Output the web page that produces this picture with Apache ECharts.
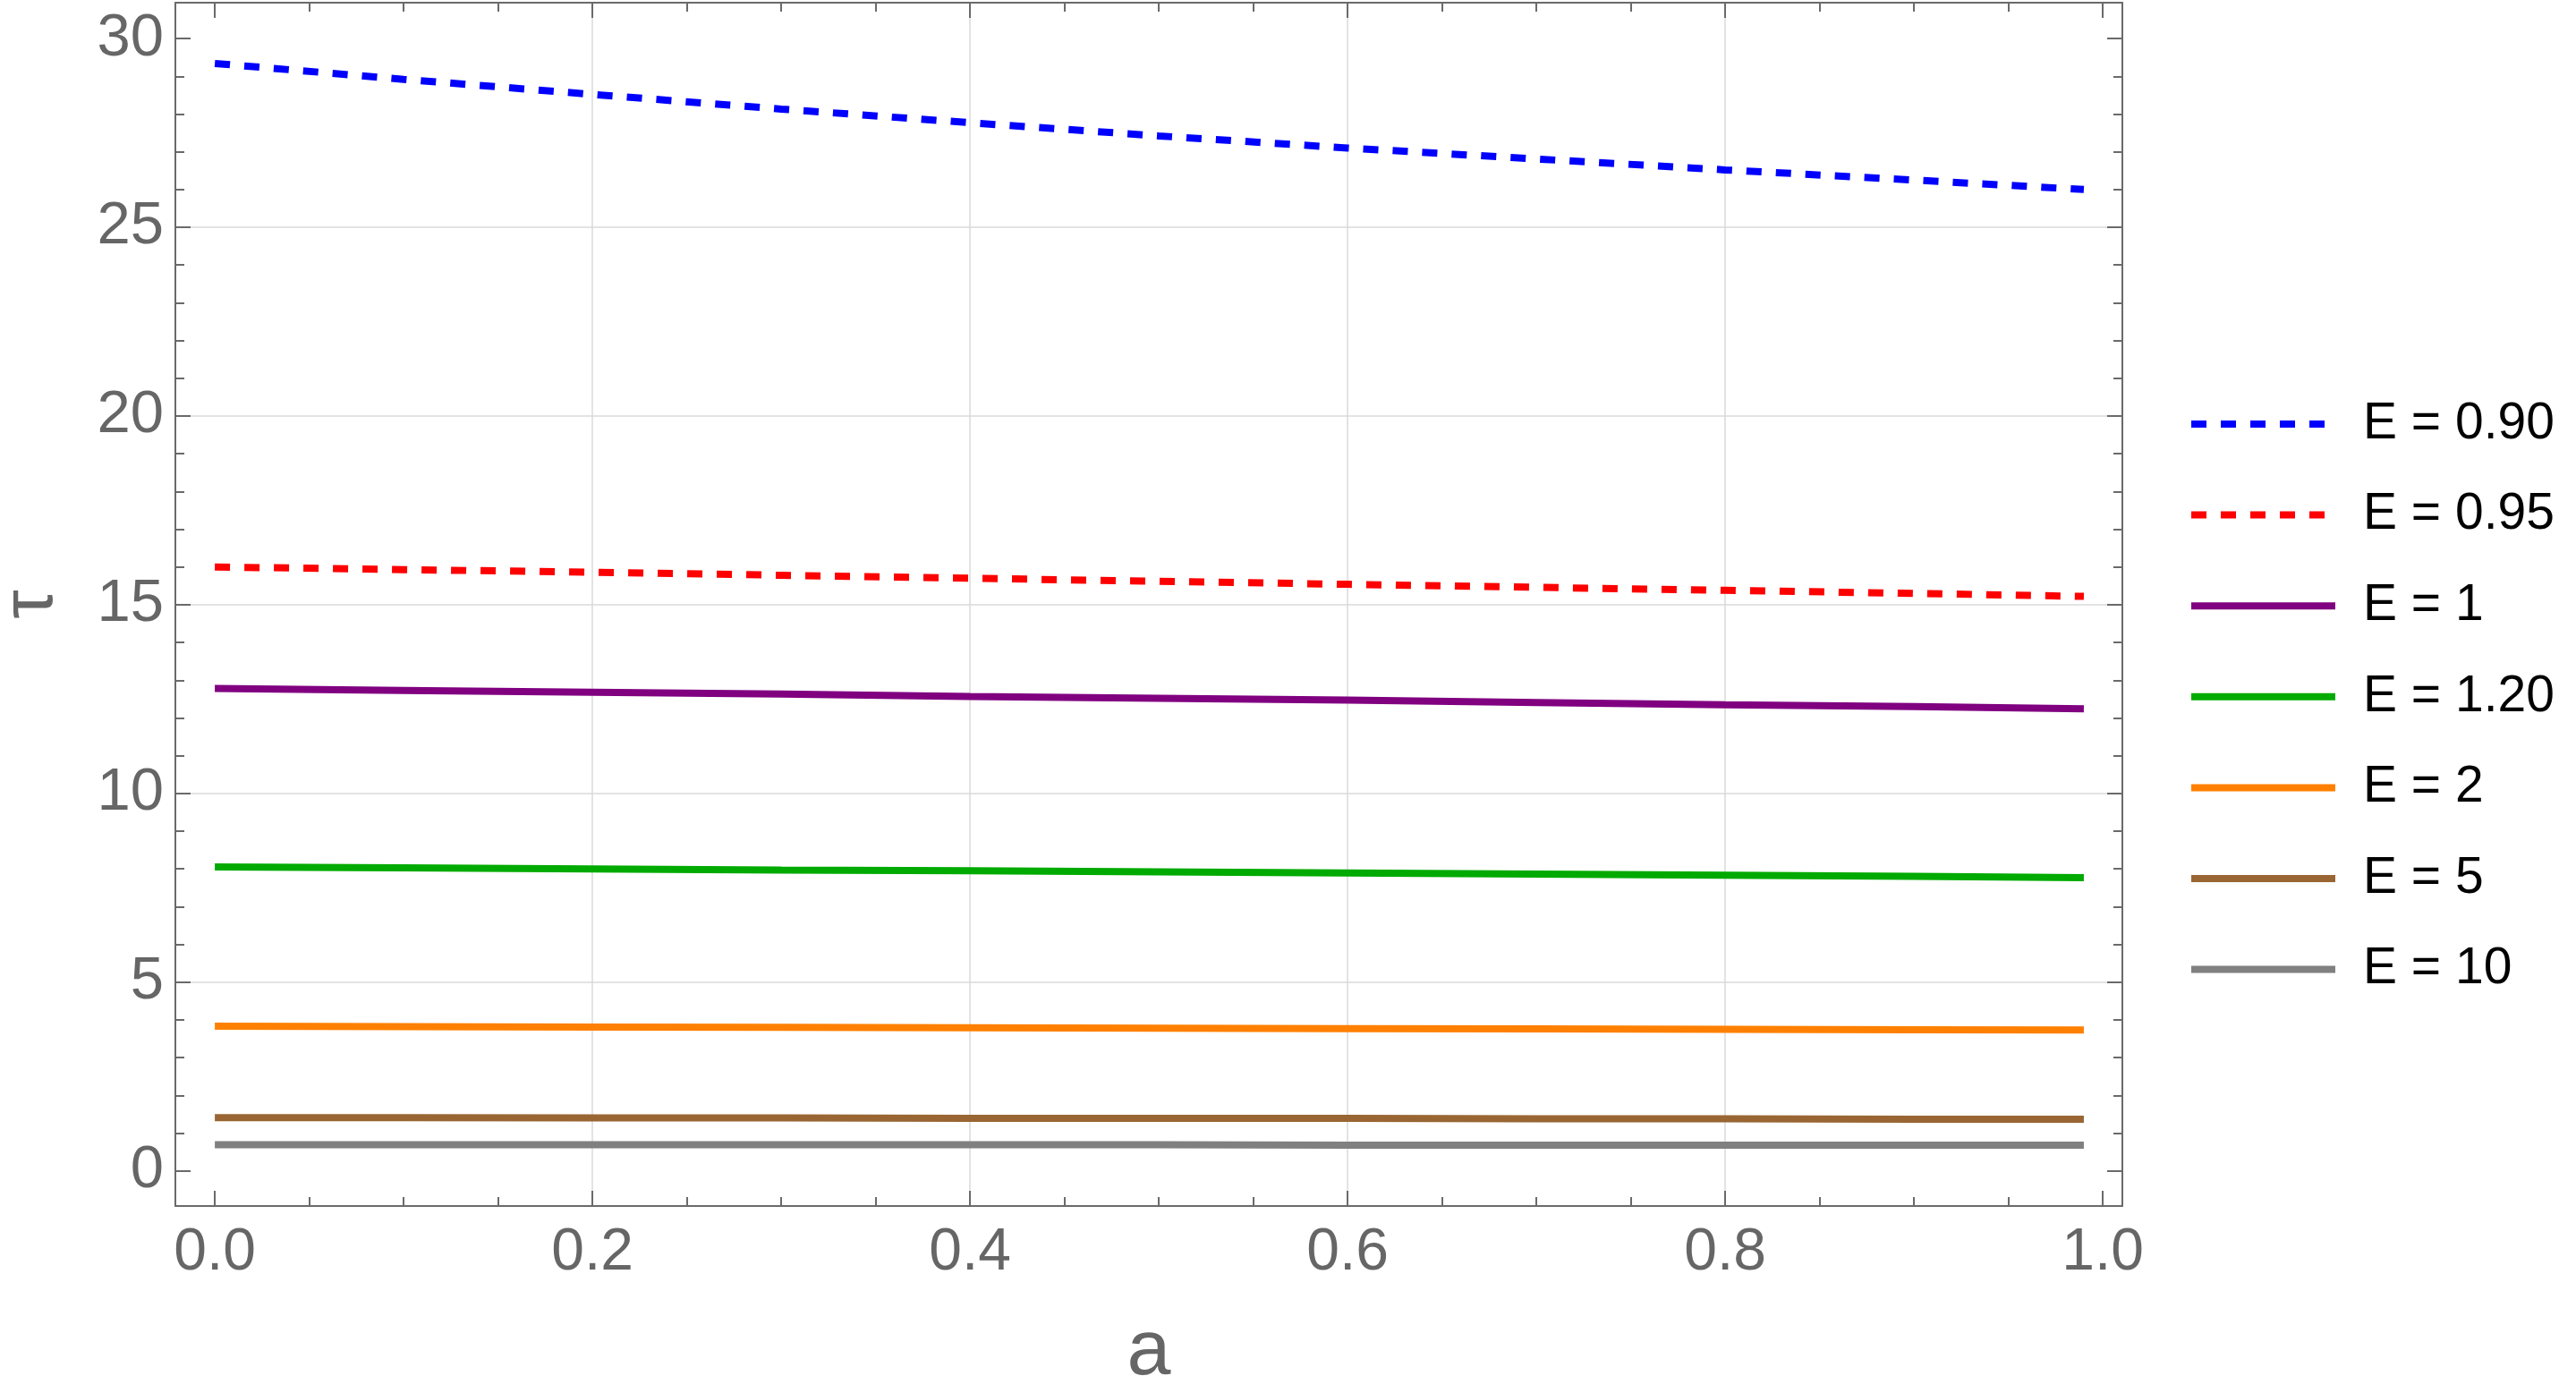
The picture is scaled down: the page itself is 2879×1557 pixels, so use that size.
<!DOCTYPE html>
<html>
<head>
<meta charset="utf-8">
<script src="https://cdn.jsdelivr.net/npm/echarts@6/dist/echarts.min.js"></script>
<style>
html,body{margin:0;padding:0;background:#fff;}
#chart{width:2879px;height:1557px;}
</style>
</head>
<body>
<div id="chart"></div>
<script>
// ---- data ----
const aValues = [0, 0.1, 0.2, 0.3, 0.4, 0.5, 0.6, 0.7, 0.8, 0.9, 0.99];
const tauE090 = [29.34, 28.92, 28.52, 28.13, 27.77, 27.42, 27.10, 26.81, 26.52, 26.25, 26.00];
const tauE095 = [16.00, 15.93, 15.86, 15.78, 15.70, 15.62, 15.54, 15.46, 15.38, 15.30, 15.22];
const tauE1   = [12.78, 12.73, 12.68, 12.63, 12.57, 12.52, 12.47, 12.41, 12.35, 12.30, 12.24];
const tauE120 = [8.05, 8.03, 8.00, 7.97, 7.95, 7.92, 7.89, 7.86, 7.83, 7.80, 7.77];
const tauE2   = [3.83, 3.82, 3.81, 3.80, 3.79, 3.78, 3.77, 3.76, 3.75, 3.74, 3.73];
const tauE5   = [1.41, 1.41, 1.40, 1.40, 1.39, 1.39, 1.39, 1.38, 1.38, 1.37, 1.37];
const tauE10  = [0.69, 0.69, 0.69, 0.69, 0.69, 0.69, 0.68, 0.68, 0.68, 0.68, 0.68];
const seriesNames = ['E = 0.90', 'E = 0.95', 'E = 1', 'E = 1.20', 'E = 2', 'E = 5', 'E = 10'];
const xMajorTicks = [0, 0.2, 0.4, 0.6, 0.8, 1.0];
const xMinorTicks = [0.05,0.1,0.15,0.25,0.3,0.35,0.45,0.5,0.55,0.65,0.7,0.75,0.85,0.9,0.95];
const xGridTicks = [0.2, 0.4, 0.6, 0.8];
const yMajorTicks = [0, 5, 10, 15, 20, 25, 30];
const yMinorTicks = [1,2,3,4,6,7,8,9,11,12,13,14,16,17,18,19,21,22,23,24,26,27,28,29];
const yGridTicks = [5, 10, 15, 20, 25];

// ---- styling ----
const XMIN = -0.0209, XMAX = 1.0104;
const YMIN = -0.932, YMAX = 30.95;
const AX = '#6a6a6a';
const FONT = '"Liberation Sans", Arial, sans-serif';
const colors = ['#0000ff', '#ff0000', '#800080', '#00aa00', '#ff8000', '#996633', '#808080'];
const dashed = [true, true, false, false, false, false, false];
const allData = [tauE090, tauE095, tauE1, tauE120, tauE2, tauE5, tauE10];

function xAx(pos, vals, len, opts) {
  return Object.assign({
    type: 'value', position: pos, min: XMIN, max: XMAX,
    axisLine: {show: false, onZero: false},
    axisTick: {show: true, inside: true, length: len, customValues: vals, lineStyle: {color: AX, width: 2}},
    axisLabel: {show: false},
    splitLine: {show: false}
  }, opts || {});
}
function yAx(pos, vals, len, opts) {
  return Object.assign({
    type: 'value', position: pos, min: YMIN, max: YMAX,
    axisLine: {show: false, onZero: false},
    axisTick: {show: true, inside: true, length: len, customValues: vals, lineStyle: {color: AX, width: 2}},
    axisLabel: {show: false},
    splitLine: {show: false}
  }, opts || {});
}

const xAxes = [
  xAx('bottom', xMajorTicks, 17, {
    axisLine: {show: true, onZero: false, lineStyle: {color: AX, width: 2}},
    axisLabel: {show: true, customValues: xMajorTicks, margin: 20, color: '#666666',
      fontSize: 66, fontFamily: FONT, formatter: v => Number(v).toFixed(1)},
    name: 'a', nameLocation: 'middle', nameGap: 120,
    nameTextStyle: {fontSize: 88, color: '#666666', fontFamily: FONT}
  }),
  xAx('bottom', xMinorTicks, 10),
  xAx('top', xMajorTicks, 17, {axisLine: {show: true, onZero: false, lineStyle: {color: AX, width: 2}}}),
  xAx('top', xMinorTicks, 10),
  xAx('bottom', xGridTicks, 0, {
    axisTick: {show: false, customValues: xGridTicks},
    splitLine: {show: true, lineStyle: {color: '#dadada', width: 1.5}}
  })
];
const yAxes = [
  yAx('left', yMajorTicks, 17, {
    axisLine: {show: true, onZero: false, lineStyle: {color: AX, width: 2}},
    axisLabel: {show: true, customValues: yMajorTicks, margin: 13, color: '#666666',
      fontSize: 67, fontFamily: FONT, formatter: v => String(Math.round(v))},
    name: 'τ', nameLocation: 'middle', nameGap: 120,
    nameTextStyle: {fontSize: 82, color: '#666666', fontFamily: FONT}
  }),
  yAx('left', yMinorTicks, 10),
  yAx('right', yMajorTicks, 17, {axisLine: {show: true, onZero: false, lineStyle: {color: AX, width: 2}}}),
  yAx('right', yMinorTicks, 10),
  yAx('left', yGridTicks, 0, {
    axisTick: {show: false, customValues: yGridTicks},
    splitLine: {show: true, lineStyle: {color: '#dadada', width: 1.5}}
  })
];

const series = seriesNames.map((nm, i) => ({
  name: nm, type: 'line', xAxisIndex: 0, yAxisIndex: 0,
  data: aValues.map((a, j) => [a, allData[i][j]]),
  showSymbol: false, symbol: 'none', smooth: false,
  lineStyle: {color: colors[i], width: 8, type: dashed[i] ? [17, 16] : 'solid', cap: 'butt'},
  itemStyle: {color: colors[i]},
  z: 10
}));

const chart = echarts.init(document.getElementById('chart'), null, {renderer: 'canvas'});
chart.setOption({
  animation: false,
  backgroundColor: '#ffffff',
  color: colors,
  grid: {left: 196, top: 3, width: 2176, height: 1345, containLabel: false, outerBoundsMode: 'none'},
  xAxis: xAxes,
  yAxis: yAxes,
  legend: {
    orient: 'vertical', left: 2440, top: 440,
    itemWidth: 161, itemHeight: 58, itemGap: 43.6,
    data: seriesNames,
    textStyle: {fontSize: 57, lineHeight: 58, color: '#000000', fontFamily: FONT, padding: [0, 0, 0, 26]},
    lineStyle: {width: 8},
    itemStyle: {color: 'rgba(0,0,0,0)', borderWidth: 0, opacity: 0}
  },
  series: series
});
</script>
</body>
</html>
